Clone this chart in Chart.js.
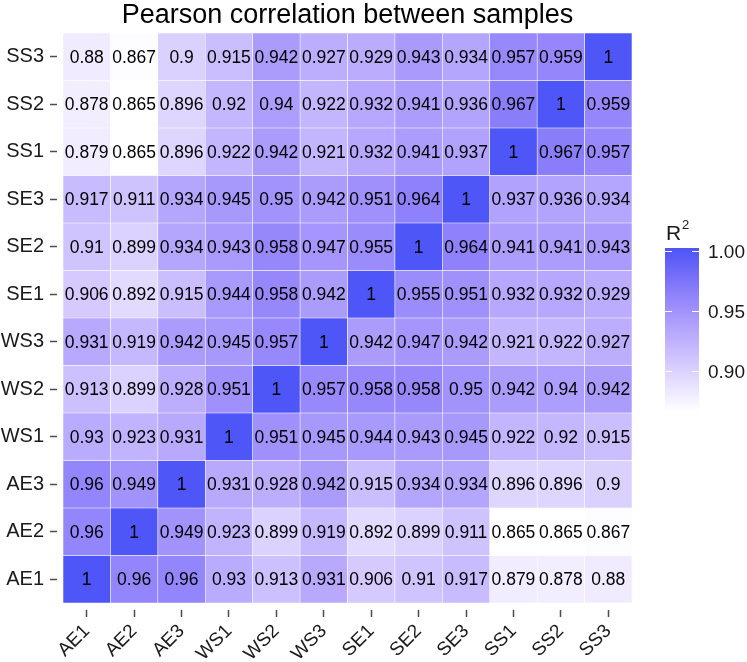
<!DOCTYPE html>
<html>
<head>
<meta charset="utf-8">
<script src="https://cdn.jsdelivr.net/npm/chart.js@4/dist/chart.umd.min.js"></script>
<style>
  html, body { margin: 0; padding: 0; background: #fff; }
  #wrap { width: 747px; height: 662px; }
</style>
</head>
<body>
<div id="wrap"><canvas id="heat" width="747" height="662"></canvas></div>
<script>
// ==================== DATA ====================
const samples = ['AE1','AE2','AE3','WS1','WS2','WS3','SE1','SE2','SE3','SS1','SS2','SS3'];
const AE1 = [1, 0.96, 0.96, 0.93, 0.913, 0.931, 0.906, 0.91, 0.917, 0.879, 0.878, 0.88];
const AE2 = [0.96, 1, 0.949, 0.923, 0.899, 0.919, 0.892, 0.899, 0.911, 0.865, 0.865, 0.867];
const AE3 = [0.96, 0.949, 1, 0.931, 0.928, 0.942, 0.915, 0.934, 0.934, 0.896, 0.896, 0.9];
const WS1 = [0.93, 0.923, 0.931, 1, 0.951, 0.945, 0.944, 0.943, 0.945, 0.922, 0.92, 0.915];
const WS2 = [0.913, 0.899, 0.928, 0.951, 1, 0.957, 0.958, 0.958, 0.95, 0.942, 0.94, 0.942];
const WS3 = [0.931, 0.919, 0.942, 0.945, 0.957, 1, 0.942, 0.947, 0.942, 0.921, 0.922, 0.927];
const SE1 = [0.906, 0.892, 0.915, 0.944, 0.958, 0.942, 1, 0.955, 0.951, 0.932, 0.932, 0.929];
const SE2 = [0.91, 0.899, 0.934, 0.943, 0.958, 0.947, 0.955, 1, 0.964, 0.941, 0.941, 0.943];
const SE3 = [0.917, 0.911, 0.934, 0.945, 0.95, 0.942, 0.951, 0.964, 1, 0.937, 0.936, 0.934];
const SS1 = [0.879, 0.865, 0.896, 0.922, 0.942, 0.921, 0.932, 0.941, 0.937, 1, 0.967, 0.957];
const SS2 = [0.878, 0.865, 0.896, 0.92, 0.94, 0.922, 0.932, 0.941, 0.936, 0.967, 1, 0.959];
const SS3 = [0.88, 0.867, 0.9, 0.915, 0.942, 0.927, 0.929, 0.943, 0.934, 0.957, 0.959, 1];
const rows = [AE1, AE2, AE3, WS1, WS2, WS3, SE1, SE2, SE3, SS1, SS2, SS3];
const legendTicks = [0.90, 0.95, 1.00];
const valueMin = 0.865, valueMax = 1;

const FONT = '"Liberation Sans", Arial, sans-serif';

// ==================== COLOUR (Lab gradient white -> blue) ====================
function toLin(c) { c /= 255; return c <= 0.04045 ? c / 12.92 : Math.pow((c + 0.055) / 1.055, 2.4); }
function fromLin(c) { c = c <= 0.0031308 ? 12.92 * c : 1.055 * Math.pow(c, 1 / 2.4) - 0.055; return Math.round(Math.max(0, Math.min(1, c)) * 255); }
function rgb2lab([r, g, b]) {
  r = toLin(r); g = toLin(g); b = toLin(b);
  let x = (r * 0.4124 + g * 0.3576 + b * 0.1805) / 0.95047;
  let y = (r * 0.2126 + g * 0.7152 + b * 0.0722);
  let z = (r * 0.0193 + g * 0.1192 + b * 0.9505) / 1.08883;
  const f = t => t > 0.008856 ? Math.cbrt(t) : 7.787 * t + 16 / 116;
  x = f(x); y = f(y); z = f(z);
  return [116 * y - 16, 500 * (x - y), 200 * (y - z)];
}
function lab2rgb([L, a, bb]) {
  let y = (L + 16) / 116, x = a / 500 + y, z = y - bb / 200;
  const fi = t => t * t * t > 0.008856 ? t * t * t : (t - 16 / 116) / 7.787;
  x = fi(x) * 0.95047; y = fi(y); z = fi(z) * 1.08883;
  const r = x * 3.2406 + y * -1.5372 + z * -0.4986;
  const g = x * -0.9689 + y * 1.8758 + z * 0.0415;
  const b = x * 0.0557 + y * -0.2040 + z * 1.0570;
  return [fromLin(r), fromLin(g), fromLin(b)];
}
const lowLab = rgb2lab([255, 255, 255]);
const highLab = rgb2lab([78, 86, 247]);
function colorFor(v) {
  const t = Math.max(0, Math.min(1, (v - valueMin) / (valueMax - valueMin)));
  const lab = lowLab.map((l, i) => l + (highLab[i] - l) * t);
  const [r, g, b] = lab2rgb(lab);
  return `rgb(${r},${g},${b})`;
}

// ==================== PLUGINS ====================
const cellLabels = {
  id: 'cellLabels',
  afterDatasetsDraw(chart) {
    const ctx = chart.ctx;
    ctx.save();
    ctx.font = '17.5px ' + FONT;
    ctx.fillStyle = '#000';
    ctx.textAlign = 'center';
    ctx.textBaseline = 'middle';
    chart.data.datasets.forEach((ds, di) => {
      chart.getDatasetMeta(di).data.forEach((bar, i) => {
        ctx.fillText(String(rows[di][i]), bar.x, (bar.y + bar.base) / 2 + 1);
      });
    });
    ctx.restore();
  }
};

const panelTitle = {
  id: 'panelTitle',
  afterDraw(chart) {
    const { ctx, chartArea } = chart;
    ctx.save();
    ctx.font = '27px ' + FONT;
    ctx.fillStyle = '#000';
    ctx.textAlign = 'center';
    ctx.textBaseline = 'alphabetic';
    ctx.fillText('Pearson correlation between samples', (chartArea.left + chartArea.right) / 2, 23);
    ctx.restore();
  }
};

const colorBar = {
  id: 'colorBar',
  afterDraw(chart) {
    const { ctx, chartArea } = chart;
    const x0 = chartArea.right + 33, w = 34;
    const yOf = v => 251 + (1 - v) * 1200;
    const top = 248, bottom = yOf(valueMin) - 1;
    ctx.save();
    const grad = ctx.createLinearGradient(0, bottom, 0, top);
    for (let k = 0; k <= 20; k++) {
      const v = valueMin + (1.0025 - valueMin) * k / 20;
      grad.addColorStop(k / 20, colorFor(v));
    }
    ctx.fillStyle = grad;
    ctx.fillRect(x0, top, w, bottom - top);
    ctx.strokeStyle = '#fff';
    ctx.lineWidth = 1;
    ctx.font = '19px ' + FONT;
    ctx.fillStyle = '#1a1a1a';
    ctx.textAlign = 'left';
    ctx.textBaseline = 'middle';
    legendTicks.forEach(v => {
      const y = Math.round(yOf(v)) + 0.5;
      ctx.beginPath();
      ctx.moveTo(x0, y); ctx.lineTo(x0 + 7, y);
      ctx.moveTo(x0 + w - 7, y); ctx.lineTo(x0 + w, y);
      ctx.stroke();
      ctx.fillText(v.toFixed(2), x0 + w + 9, y + 1);
    });
    ctx.textBaseline = 'alphabetic';
    ctx.font = '21px ' + FONT;
    ctx.fillText('R', x0 + 1, 240);
    ctx.font = '13px ' + FONT;
    ctx.fillText('2', x0 + 17, 229);
    ctx.restore();
  }
};

// ==================== CHART ====================
const datasets = rows.map((r, i) => ({
  label: samples[i],
  data: samples.map(() => 1),
  backgroundColor: r.map(colorFor),
  borderColor: 'rgba(255,255,255,0.55)',
  borderWidth: 0.6,
  borderSkipped: false,
  barPercentage: 1,
  categoryPercentage: 1
}));

new Chart(document.getElementById('heat'), {
  type: 'bar',
  data: { labels: samples, datasets },
  options: {
    responsive: false,
    animation: false,
    layout: { padding: { top: 33, right: 115, left: 0, bottom: 0 } },
    plugins: { legend: { display: false }, tooltip: { enabled: false } },
    scales: {
      x: {
        stacked: true,
        afterFit: s => { s.height = 59; },
        border: { display: false },
        grid: { offset: false, drawOnChartArea: false, tickLength: 14, tickColor: '#4d4d4d', tickWidth: 1.5, tickBorderDash: [7, 7], tickBorderDashOffset: 7 },
        ticks: { color: '#1a1a1a', font: { family: FONT, size: 19 }, minRotation: 45, maxRotation: 45, padding: 3 }
      },
      y: {
        stacked: true,
        min: 0,
        max: samples.length,
        afterFit: s => { s.width = 63; },
        afterBuildTicks: s => { s.ticks = samples.map((n, i) => ({ value: i + 0.5 })); },
        border: { display: false },
        grid: { drawOnChartArea: false, tickLength: 13, tickColor: '#4d4d4d', tickWidth: 1.5, tickBorderDash: [7, 6] },
        ticks: {
          color: '#1a1a1a',
          font: { family: FONT, size: 20 },
          padding: 6,
          callback: (v, i) => samples[i]
        }
      }
    }
  },
  plugins: [cellLabels, panelTitle, colorBar]
});
</script>
</body>
</html>
